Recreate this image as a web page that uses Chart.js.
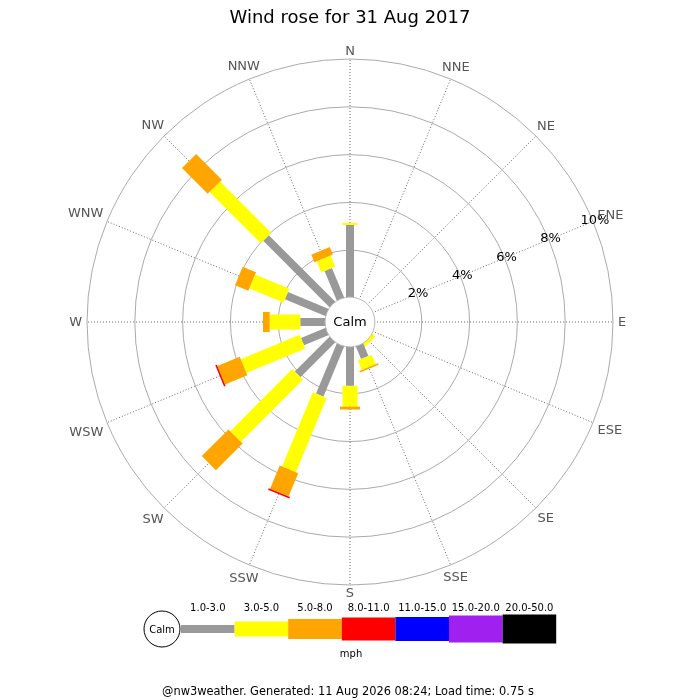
<!DOCTYPE html>
<html>
<head>
<meta charset="utf-8">
<title>Wind rose</title>
<script src="https://cdn.jsdelivr.net/npm/chart.js@4.4.1/dist/chart.umd.min.js"></script>
<style>
  html, body { margin: 0; padding: 0; background: #fff; }
</style>
</head>
<body>
<canvas id="rosa" width="700" height="700"></canvas>
<script>
/* -----------------------------
   DATOS
----------------------------- */
const direcciones = ["N", "NNE", "NE", "ENE", "E", "ESE", "SE", "SSE",
                     "S", "SSW", "SW", "WSW", "W", "WNW", "NW", "NNW"];
const clasesVelocidad = ["1.0-3.0", "3.0-5.0", "5.0-8.0", "8.0-11.0",
                         "11.0-15.0", "15.0-20.0", "20.0-50.0"];
const unidad = "mph";
const ticksPct = [2, 4, 6, 8, 10];

// % del tiempo por direccion y clase de velocidad
const pct_1_3   = [3.06, 0, 0, 0, 0, 0, 0,    0.61, 1.67, 2.31, 2.10, 1.15, 1.08, 1.88, 3.97, 1.38];
const pct_3_5   = [0.09, 0, 0, 0, 0, 0, 0.18, 0.43, 0.87, 3.36, 3.67, 2.67, 1.28, 1.55, 3.03, 0.50];
const pct_5_8   = [0,    0, 0, 0, 0, 0, 0,    0.07, 0.12, 1.05, 1.58, 1.01, 0.28, 0.60, 1.52, 0.34];
const pct_8_11  = [0,    0, 0, 0, 0, 0, 0,    0,    0,    0.07, 0,    0.07, 0,    0,    0,    0];
const pct_11_15 = [0, 0, 0, 0, 0, 0, 0, 0, 0, 0, 0, 0, 0, 0, 0, 0];
const pct_15_20 = [0, 0, 0, 0, 0, 0, 0, 0, 0, 0, 0, 0, 0, 0, 0, 0];
const pct_20_50 = [0, 0, 0, 0, 0, 0, 0, 0, 0, 0, 0, 0, 0, 0, 0, 0];

const seriesPct = [pct_1_3, pct_3_5, pct_5_8, pct_8_11, pct_11_15, pct_15_20, pct_20_50];

/* -----------------------------
   ESTILO
----------------------------- */
const coloresClase = ["#999999", "#ffff00", "#ffa500", "#ff0000", "#0000ff", "#a020f0", "#000000"];
const anchosClase = [8, 15, 20, 23, 24, 27, 29];
const fuente = "'DejaVu Sans', 'Liberation Sans', sans-serif";

/* -----------------------------
   PLUGIN: barras apiladas
----------------------------- */
const barrasRosa = {
    id: "barrasRosa",
    afterDatasetsDraw(chart) {
        const ctx = chart.ctx;
        const r = chart.scales.r;
        ctx.save();
        ctx.lineCap = "butt";

        direcciones.forEach((dir, i) => {
            let base = 0;
            chart.data.datasets.forEach((ds, k) => {
                const v = ds.data[i];
                if (v > 0) {
                    const p0 = r.getPointPosition(i, r.getDistanceFromCenterForValue(base));
                    const p1 = r.getPointPosition(i, r.getDistanceFromCenterForValue(base + v));
                    ctx.strokeStyle = coloresClase[k];
                    ctx.lineWidth = anchosClase[k];
                    ctx.beginPath();
                    ctx.moveTo(p0.x, p0.y);
                    ctx.lineTo(p1.x, p1.y);
                    ctx.stroke();
                }
                base += v;
            });
        });

        // circulo de calma
        const rc = r.getDistanceFromCenterForValue(0) + 1;
        ctx.beginPath();
        ctx.arc(r.xCenter, r.yCenter, rc, 0, Math.PI * 2);
        ctx.fillStyle = "#fff";
        ctx.fill();
        ctx.lineWidth = 1;
        ctx.strokeStyle = "#bbbbbb";
        ctx.stroke();

        ctx.fillStyle = "#000";
        ctx.font = "13px " + fuente;
        ctx.textAlign = "center";
        ctx.textBaseline = "middle";
        ctx.fillText("Calm", r.xCenter, r.yCenter + 1);

        // etiquetas de porcentaje sobre ENE
        const idxEtiqueta = direcciones.indexOf("ENE");
        ticksPct.forEach(v => {
            const p = r.getPointPosition(idxEtiqueta, r.getDistanceFromCenterForValue(v) + 2);
            ctx.fillText(v + "%", p.x, p.y);
        });

        // nombres de direccion alrededor del circulo
        ctx.fillStyle = "#555";
        const exterior = r.getDistanceFromCenterForValue(r.max);
        direcciones.forEach((dir, i) => {
            const a = r.getIndexAngle(i);
            const w = ctx.measureText(dir).width;
            const d = exterior + 3 + (w / 2 + 2) * Math.abs(Math.sin(a)) + 5 * Math.abs(Math.cos(a));
            const p = r.getPointPosition(i, d);
            ctx.fillText(dir, p.x, p.y + 1);
        });
        ctx.restore();
    }
};

/* -----------------------------
   PLUGIN: leyenda y pie
----------------------------- */
const leyendaRosa = {
    id: "leyendaRosa",
    afterDraw(chart) {
        const ctx = chart.ctx;
        const yLeyenda = 629;
        const xInicio = 181;
        const paso = 53.6;
        ctx.save();

        ctx.beginPath();
        ctx.arc(162, yLeyenda, 18, 0, Math.PI * 2);
        ctx.fillStyle = "#fff";
        ctx.fill();
        ctx.strokeStyle = "#000";
        ctx.lineWidth = 1;
        ctx.stroke();

        ctx.fillStyle = "#000";
        ctx.font = "10px " + fuente;
        ctx.textAlign = "center";
        ctx.textBaseline = "middle";
        ctx.fillText("Calm", 162, yLeyenda + 1);

        clasesVelocidad.forEach((clase, k) => {
            const x = xInicio + k * paso;
            const h = anchosClase[k];
            ctx.fillStyle = coloresClase[k];
            ctx.fillRect(x, yLeyenda - h / 2, paso, h);
            ctx.fillStyle = "#000";
            ctx.fillText(clase, x + paso / 2, 608);
        });

        ctx.fillText(unidad, 351, 654);

        ctx.font = "11.4px " + fuente;
        ctx.fillText("@nw3weather. Generated: 11 Aug 2026 08:24; Load time: 0.75 s", 348, 692);
        ctx.restore();
    }
};

/* -----------------------------
   GRAFICA
----------------------------- */
new Chart(document.getElementById("rosa"), {
    type: "radar",
    data: {
        labels: direcciones,
        datasets: clasesVelocidad.map((clase, k) => ({
            label: clase,
            data: seriesPct[k],
            showLine: false,
            fill: false,
            backgroundColor: "rgba(0,0,0,0)",
            borderColor: "rgba(0,0,0,0)",
            pointRadius: 0,
            pointHoverRadius: 0,
            borderWidth: 0
        }))
    },
    options: {
        responsive: false,
        animation: false,
        devicePixelRatio: 1,
        events: [],
        layout: {
            padding: { top: 2, bottom: 115, left: 0, right: 0 }
        },
        plugins: {
            legend: { display: false },
            tooltip: { enabled: false },
            filler: { propagate: false },
            title: {
                display: true,
                text: "Wind rose for 31 Aug 2017",
                color: "#000",
                font: { family: fuente, size: 18, weight: "normal" },
                padding: { top: 6, bottom: 29.4 }
            }
        },
        scales: {
            r: {
                min: -1,
                max: 10,
                afterBuildTicks: (axis) => {
                    axis.ticks = [0, ...ticksPct].map(v => ({ value: v }));
                },
                ticks: { display: false },
                grid: { circular: true, color: "#aaaaaa", lineWidth: 1 },
                angleLines: { color: "#666", lineWidth: 1, borderDash: [1, 2] },
                pointLabels: { display: false }
            }
        }
    },
    plugins: [barrasRosa, leyendaRosa]
});
</script>
</body>
</html>
